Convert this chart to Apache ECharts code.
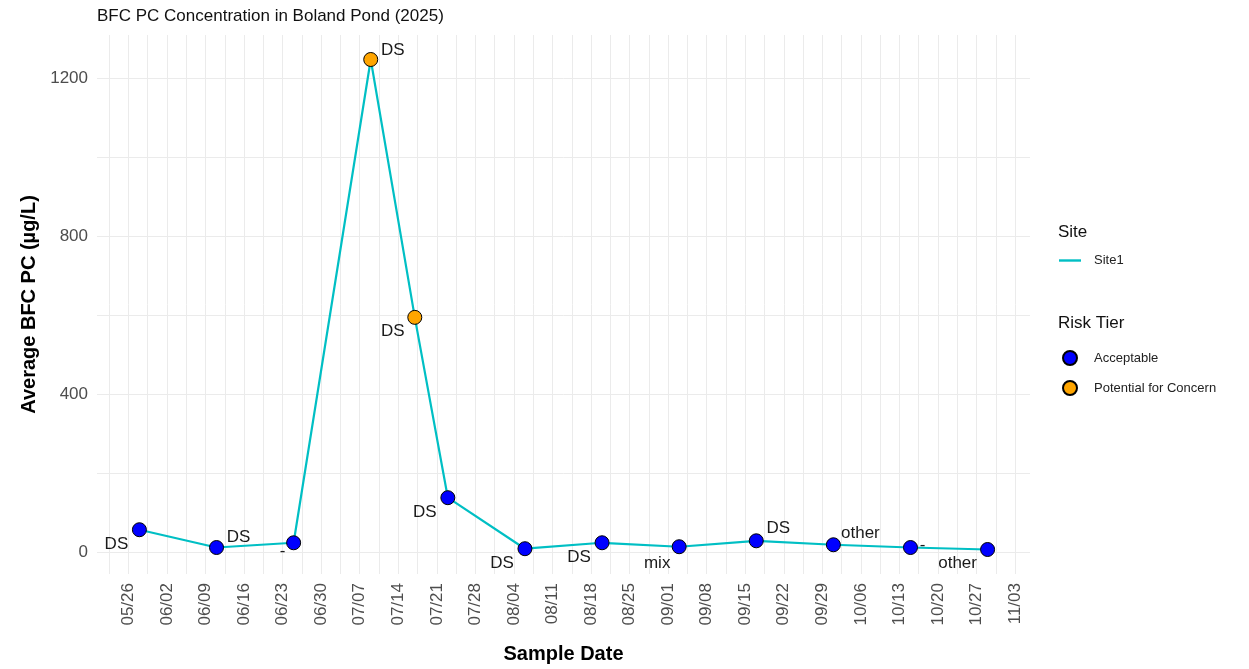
<!DOCTYPE html>
<html>
<head>
<meta charset="utf-8">
<title>BFC PC Concentration in Boland Pond (2025)</title>
<script src="https://cdn.jsdelivr.net/npm/echarts@6/dist/echarts.min.js"></script>
<style>
  html, body { margin: 0; padding: 0; background: #ffffff; }
  #chart { width: 1249px; height: 669px; }
</style>
</head>
<body>
<div id="chart"></div>
<script>
// sample data
var sampleDates = ["2025-05-28", "2025-06-11", "2025-06-25", "2025-07-09", "2025-07-17",
  "2025-07-23", "2025-08-06", "2025-08-20", "2025-09-03", "2025-09-17",
  "2025-10-01", "2025-10-15", "2025-10-29"];
var avgBfcPc = [58, 13, 25, 1247, 595, 139, 10, 25, 15, 30, 20, 13, 8];
var riskTier = ["Acceptable", "Acceptable", "Acceptable", "Potential for Concern", "Potential for Concern",
  "Acceptable", "Acceptable", "Acceptable", "Acceptable", "Acceptable",
  "Acceptable", "Acceptable", "Acceptable"];
var sampleType = ["DS", "DS", "-", "DS", "DS", "DS", "DS", "DS", "mix", "DS", "other", "-", "other"];
var yTicks = [0, 400, 800, 1200];

// repelled label offsets (px from point centre), kept apart from data
var labelOffsets = [[-23, 15], [22, -10], [-11, 9], [22, -9], [-22, 14], [-23, 15], [-23, 15],
  [-23, 15], [-22, 17], [22, -12], [27, -11], [12, -2], [-30, 14]];

var DAY = 86400000;
var origin = Date.UTC(2025, 4, 26); // 05/26, first labelled Monday
function dayOf(s) {
  var p = s.split("-");
  return Math.round((Date.UTC(+p[0], +p[1] - 1, +p[2]) - origin) / DAY);
}
function fmtDay(d) {
  var t = new Date(origin + d * DAY);
  var m = t.getUTCMonth() + 1, dd = t.getUTCDate();
  return (m < 10 ? "0" : "") + m + "/" + (dd < 10 ? "0" : "") + dd;
}

var xs = sampleDates.map(dayOf);
var xLo = Math.min.apply(null, xs), xHi = Math.max.apply(null, xs);
var yLo = Math.min.apply(null, avgBfcPc), yHi = Math.max.apply(null, avgBfcPc);
var xPad = (xHi - xLo) * 0.05, yPad = (yHi - yLo) * 0.05;
var xMin = xLo - xPad, xMax = xHi + xPad;

// weekly breaks and half-week minor grid
var weekTicks = [], gridTicks = [];
for (var w = 0; w * 7 <= xMax; w++) weekTicks.push(w * 7);
for (var h = -3.5; h <= xMax; h += 3.5) if (h >= xMin) gridTicks.push(h);
var yGrid = [0, 200, 400, 600, 800, 1000, 1200];

var lineData = xs.map(function (x, i) { return [x, avgBfcPc[i]]; });
function tierData(tier) {
  var out = [];
  xs.forEach(function (x, i) {
    if (riskTier[i] !== tier) return;
    out.push({
      value: [x, avgBfcPc[i]],
      label: { formatter: sampleType[i], offset: labelOffsets[i] }
    });
  });
  return out;
}

var pointLabel = {
  show: true,
  position: "inside",
  fontFamily: "Liberation Sans, Arial, sans-serif",
  fontSize: 17,
  color: "#1a1a1a"
};

var chart = echarts.init(document.getElementById("chart"), null, { renderer: "canvas" });
chart.setOption({
  backgroundColor: "#ffffff",
  animation: false,
  textStyle: { fontFamily: "Liberation Sans, Arial, sans-serif" },
  title: [
    {
      text: "BFC PC Concentration in Boland Pond (2025)",
      left: 92, top: 3,
      textStyle: { fontSize: 17, fontWeight: "normal", color: "#111111" }
    },
    { text: "Site", left: 1053, top: 219, textStyle: { fontSize: 17, fontWeight: "normal", color: "#111111" } },
    { text: "Risk Tier", left: 1053, top: 310, textStyle: { fontSize: 17, fontWeight: "normal", color: "#111111" } }
  ],
  legend: [
    {
      data: [{ name: "Site1", icon: "rect" }],
      left: 1054, top: 249,
      itemWidth: 22, itemHeight: 2.4,
      textStyle: { fontSize: 13, color: "#222222", padding: [0, 0, 0, 8] }
    },
    {
      data: ["Acceptable", "Potential for Concern"],
      orient: "vertical",
      left: 1057, top: 345,
      itemWidth: 22, itemHeight: 14, itemGap: 14,
      textStyle: { fontSize: 13, color: "#222222", padding: [0, 0, 0, 8] }
    }
  ],
  grid: { left: 97, right: 219, top: 35, bottom: 92 },
  xAxis: {
    type: "value",
    min: xMin, max: xMax,
    name: "Sample Date",
    nameLocation: "middle",
    nameGap: 70,
    nameTextStyle: { fontSize: 20, fontWeight: "bold", color: "#000000" },
    axisLine: { show: false },
    axisTick: { show: false, customValues: gridTicks },
    axisLabel: {
      customValues: weekTicks,
      rotate: 90,
      margin: 9,
      fontSize: 17,
      color: "#4d4d4d",
      formatter: function (v) { return fmtDay(v); }
    },
    splitLine: { show: true, lineStyle: { color: "#ebebeb", width: 1 } }
  },
  yAxis: {
    type: "value",
    min: yLo - yPad, max: yHi + yPad,
    name: "Average BFC PC (µg/L)",
    nameLocation: "middle",
    nameGap: 49,
    nameTextStyle: { fontSize: 20, fontWeight: "bold", color: "#000000" },
    axisLine: { show: false },
    axisTick: { show: false, customValues: yGrid },
    axisLabel: {
      customValues: yTicks, margin: 9, fontSize: 17, color: "#4d4d4d",
      formatter: function (v) { return String(v); }
    },
    splitLine: { show: true, lineStyle: { color: "#ebebeb", width: 1 } }
  },
  series: [
    {
      name: "Site1",
      type: "line",
      data: lineData,
      showSymbol: false,
      symbol: "none",
      color: "#00bfc4",
      lineStyle: { color: "#00bfc4", width: 2.2 },
      z: 2
    },
    {
      name: "Acceptable",
      type: "scatter",
      data: tierData("Acceptable"),
      symbolSize: 14,
      itemStyle: { color: "#0000ff", borderColor: "#000000", borderWidth: 1, opacity: 1 },
      label: pointLabel,
      z: 3
    },
    {
      name: "Potential for Concern",
      type: "scatter",
      data: tierData("Potential for Concern"),
      symbolSize: 14,
      itemStyle: { color: "#ffa500", borderColor: "#000000", borderWidth: 1, opacity: 1 },
      label: pointLabel,
      z: 3
    }
  ]
});
</script>
</body>
</html>
